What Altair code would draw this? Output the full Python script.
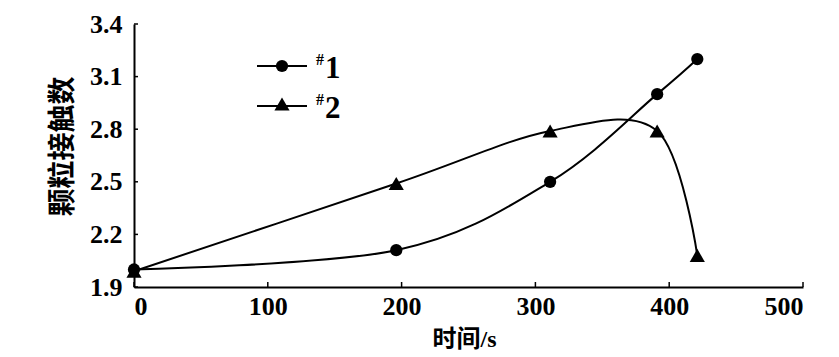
import altair as alt
import pandas as pd

# ---- data ----
times = [0, 196, 311, 391, 421]
series1 = [2.0, 2.11, 2.5, 3.0, 3.2]
series2 = [1.99, 2.49, 2.79, 2.79, 2.08]
series_names = ["#1", "#2"]
x_ticks = [0, 100, 200, 300, 400, 500]
y_ticks = [1.9, 2.2, 2.5, 2.8, 3.1, 3.4]

SERIF = "Liberation Serif, Noto Sans CJK SC"

rows = []
for t, v in zip(times, series1):
    rows.append({"t": t, "v": v, "s": series_names[0]})
for t, v in zip(times, series2):
    rows.append({"t": t, "v": v, "s": series_names[1]})
df = pd.DataFrame(rows)

W, H = 669, 263

xscale = alt.Scale(domain=[0, 500], nice=False, zero=False)
yscale = alt.Scale(domain=[1.9, 3.4], nice=False, zero=False)

xaxis = alt.Axis(
    values=x_ticks, format="d", grid=False, tickSize=0, domainColor="black",
    domainWidth=2, labelFont=SERIF, labelFontSize=26, labelFontWeight="bold",
    labelColor="black", labelPadding=6, title="时间/s", titleFont=SERIF,
    titleFontSize=24, titleFontWeight="bold", titleColor="black", titleX=330,
    titleY=52, titleBaseline="middle", titleAlign="center",
)
yaxis = alt.Axis(
    values=y_ticks, format=".1f", grid=False, tickSize=0, domainColor="black",
    domainWidth=2, labelFont=SERIF, labelFontSize=26, labelFontWeight="bold",
    labelColor="black", labelPadding=12, labelBaseline="middle", title="颗粒接触数",
    titleFont=SERIF, titleFontSize=28, titleFontWeight="bold", titleColor="black",
    titleX=-71, titleY=122, titleAngle=-90, titleBaseline="middle", titleAlign="center",
)

base = alt.Chart(df)

lines = base.mark_line(interpolate="cardinal", color="black", strokeWidth=2).encode(
    x=alt.X("t:Q", scale=xscale, axis=xaxis),
    y=alt.Y("v:Q", scale=yscale, axis=yaxis),
    detail="s:N",
)

points = base.mark_point(filled=True, color="black", opacity=1).encode(
    x=alt.X("t:Q", scale=xscale),
    y=alt.Y("v:Q", scale=yscale),
    shape=alt.Shape("s:N", scale=alt.Scale(domain=series_names, range=["circle", "triangle-up"]), legend=None),
    size=alt.Size("s:N", scale=alt.Scale(domain=series_names, range=[150, 230]), legend=None),
)

# inward tick marks
xt = alt.Chart(pd.DataFrame({"t": x_ticks})).mark_rule(color="black", strokeWidth=1.5).encode(
    x=alt.X("t:Q", scale=xscale), y=alt.value(H), y2=alt.value(H - 5)
)
yt = alt.Chart(pd.DataFrame({"v": y_ticks})).mark_rule(color="black", strokeWidth=1.5).encode(
    y=alt.Y("v:Q", scale=yscale), x=alt.value(0), x2=alt.value(4)
)

# custom legend
legend_layers = []
shapes = ["circle", "triangle-up"]
sizes = [150, 230]
for i, name in enumerate(series_names):
    ly = 42 + 40 * i
    ldf = pd.DataFrame({"s": [name]})
    legend_layers.append(
        alt.Chart(ldf).mark_rule(color="black", strokeWidth=2).encode(
            x=alt.value(123), x2=alt.value(173), y=alt.value(ly))
    )
    legend_layers.append(
        alt.Chart(ldf).mark_point(filled=True, color="black", opacity=1, shape=shapes[i],
                                  size=sizes[i]).encode(
            x=alt.value(148), y=alt.value(ly - (2 if i else 0)))
    )
    legend_layers.append(
        alt.Chart(ldf).mark_text(font=SERIF, fontSize=16, fontWeight="bold", align="left",
                                 baseline="alphabetic", color="black").encode(
            x=alt.value(182), y=alt.value(ly - 1), text=alt.value("#"))
    )
    legend_layers.append(
        alt.Chart(ldf).mark_text(font=SERIF, fontSize=31, fontWeight="bold", align="left",
                                 baseline="alphabetic", color="black").encode(
            x=alt.value(191), y=alt.value(ly + 12), text=alt.value(name[1:]))
    )

chart = alt.layer(lines, points, xt, yt, *legend_layers).properties(
    width=W, height=H,
    autosize=alt.AutoSizeParams(type="none"),
    padding={"left": 134, "top": 24, "right": 36, "bottom": 70},
    background="white",
).configure_view(stroke=None)

chart.save("out.html", embed_options={"renderer": "svg", "actions": False})
